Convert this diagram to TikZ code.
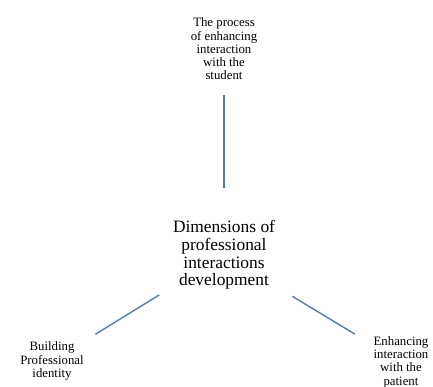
\documentclass[tikz,border=0pt]{standalone}
\usepackage{fontspec}
\setmainfont{Liberation Serif}
\usepackage{xcolor}
\usepackage{tikz}
\usetikzlibrary{positioning,calc}
\definecolor{linkblue}{HTML}{4A7EBB}

\begin{document}
\begin{tikzpicture}[
  x=1pt,y=1pt,
  dimtext/.style={align=center,inner sep=0pt,font=\fontsize{17.4}{17.8}\selectfont},
  leaf/.style={align=center,inner sep=0pt,font=\fontsize{12.8}{13.3}\selectfont},
  link/.style={draw=linkblue,line width=1.4pt}
]
\useasboundingbox (0,0) rectangle (433,387);
% Nodes
\node[dimtext] (dim) at (224,132) {Dimensions of\\professional\\interactions\\development};
\node[leaf] (proc) at (224,338) {The process\\of enhancing\\interaction\\with the\\student};
\node[leaf] (ident) at (52,26) {Building\\Professional\\identity};
\node[leaf] (patient) at (401,25) {Enhancing\\interaction\\with the\\patient};

% Links
\draw[link,shorten <=46pt,shorten >=67pt] (proc.center) -- (dim.center);
\draw[link,shorten <=76pt,shorten >=51pt] (dim.center) -- (ident.center);
\draw[link,shorten <=80pt,shorten >=54pt] (dim.center) -- (patient.center);
\end{tikzpicture}
\end{document}
